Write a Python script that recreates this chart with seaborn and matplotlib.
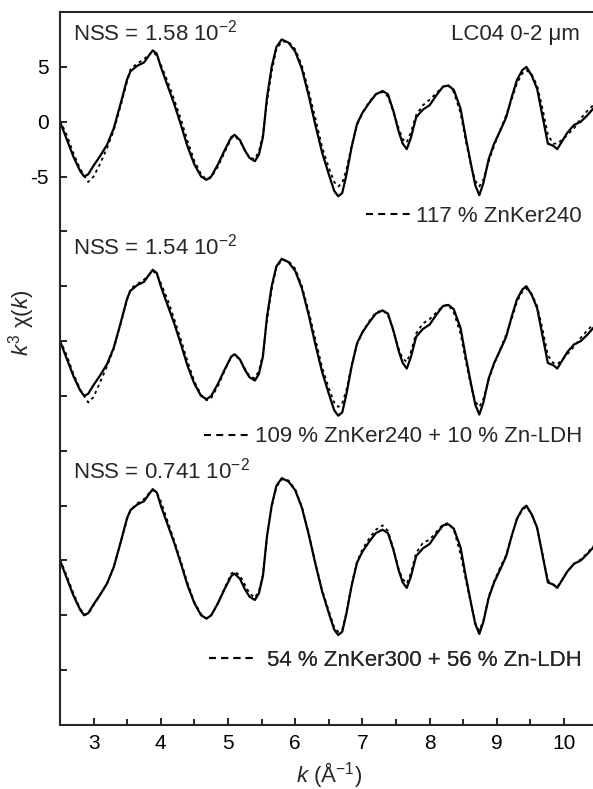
import numpy as np
import pandas as pd
import seaborn as sns
import matplotlib.pyplot as plt
from matplotlib.lines import Line2D
from matplotlib.ticker import FixedLocator, FuncFormatter, MultipleLocator

# k grid (Å^-1) and k^3 chi(k) values
k = [2.50, 2.60, 2.70, 2.80, 2.86, 2.92, 3.00, 3.10, 3.20, 3.30,
     3.40, 3.50, 3.55, 3.65, 3.75, 3.82, 3.88, 3.94, 4.00, 4.10,
     4.20, 4.30, 4.40, 4.50, 4.60, 4.68, 4.75, 4.85, 4.95, 5.05,
     5.10, 5.18, 5.25, 5.32, 5.40, 5.46, 5.52, 5.58, 5.65, 5.72,
     5.80, 5.90, 6.00, 6.10, 6.20, 6.30, 6.40, 6.50, 6.58, 6.64,
     6.70, 6.76, 6.84, 6.92, 7.00, 7.10, 7.20, 7.30, 7.38, 7.46,
     7.54, 7.60, 7.66, 7.72, 7.80, 7.90, 8.00, 8.10, 8.20, 8.28,
     8.36, 8.46, 8.54, 8.62, 8.68, 8.74, 8.80, 8.88, 8.96, 9.06,
     9.14, 9.22, 9.30, 9.38, 9.44, 9.52, 9.60, 9.68, 9.76, 9.84,
     9.90, 9.96, 10.05, 10.15, 10.25, 10.35, 10.45]

exp_chi = [0.0, -1.6, -3.2, -4.5, -5.0, -4.8, -4.0, -3.1, -2.1, -0.6,
           1.6, 3.9, 4.6, 5.1, 5.4, 6.0, 6.5, 6.2, 5.0, 3.3,
           1.6, -0.3, -2.3, -3.9, -5.0, -5.3, -5.0, -3.9, -2.6, -1.4,
           -1.2, -1.7, -2.6, -3.3, -3.6, -3.0, -1.4, 2.2, 5.0, 6.8,
           7.5, 7.2, 6.4, 4.8, 2.4, -0.3, -2.8, -4.8, -6.3, -6.8,
           -6.5, -4.9, -2.3, -0.2, 0.8, 1.7, 2.5, 2.8, 2.5, 1.0,
           -0.9, -2.0, -2.5, -1.5, 0.4, 1.1, 1.5, 2.4, 3.2, 3.3,
           2.9, 1.2, -1.5, -4.0, -5.8, -6.7, -5.6, -3.4, -2.0, -0.7,
           0.4, 2.2, 3.8, 4.7, 5.0, 4.2, 3.0, 0.5, -2.0, -2.2,
           -2.5, -1.9, -1.0, -0.3, 0.0, 0.6, 1.3]

fit_ker240 = [0.1, -1.2, -2.9, -4.3, -4.9, -5.5, -5.0, -3.8, -2.4, -0.8,
              1.4, 3.7, 4.8, 5.3, 5.7, 6.1, 6.4, 6.0, 5.2, 3.7,
              2.0, 0.2, -1.8, -3.6, -4.8, -5.3, -5.1, -4.1, -2.8, -1.5,
              -1.3, -1.8, -2.6, -3.3, -3.4, -2.7, -1.2, 1.8, 4.6, 6.6,
              7.3, 7.3, 6.6, 5.1, 2.8, 0.3, -2.3, -4.2, -5.5, -5.9,
              -5.6, -4.4, -2.2, -0.3, 0.8, 1.8, 2.5, 2.7, 2.3, 0.9,
              -0.6, -1.6, -1.9, -1.0, 0.6, 1.5, 2.0, 2.6, 3.2, 3.3,
              2.7, 0.8, -1.8, -4.1, -5.4, -5.9, -5.3, -3.6, -2.2, -0.6,
              0.6, 2.0, 3.5, 4.4, 4.7, 4.3, 3.3, 1.2, -1.2, -2.0,
              -2.0, -1.7, -1.2, -0.6, 0.3, 1.0, 1.6]

fit_ker240_ldh = [0.1, -1.3, -3.0, -4.4, -5.0, -5.6, -5.1, -3.7, -2.3, -0.7,
                  1.5, 3.8, 4.8, 5.2, 5.6, 6.0, 6.4, 6.1, 5.3, 3.8,
                  2.0, 0.1, -1.9, -3.7, -4.9, -5.4, -5.2, -4.1, -2.7, -1.4,
                  -1.2, -1.7, -2.5, -3.2, -3.4, -2.7, -1.2, 1.9, 4.7, 6.7,
                  7.4, 7.3, 6.6, 5.0, 2.7, 0.2, -2.4, -4.3, -5.6, -6.0,
                  -5.7, -4.5, -2.2, -0.3, 0.8, 1.8, 2.6, 2.8, 2.4, 0.9,
                  -0.7, -1.6, -1.9, -1.0, 0.7, 1.6, 2.0, 2.6, 3.2, 3.3,
                  2.6, 0.7, -1.9, -4.2, -5.5, -6.0, -5.3, -3.5, -2.1, -0.6,
                  0.6, 2.0, 3.6, 4.5, 4.8, 4.3, 3.2, 1.1, -1.3, -2.0,
                  -2.1, -1.8, -1.2, -0.5, 0.3, 1.0, 1.6]

fit_ker300_ldh = [0.1, -1.4, -3.0, -4.4, -4.9, -4.9, -4.1, -3.1, -2.1, -0.6,
                  1.6, 3.8, 4.6, 5.2, 5.6, 6.1, 6.4, 6.2, 5.4, 3.6,
                  1.8, -0.1, -2.1, -3.8, -4.9, -5.3, -5.0, -3.9, -2.5, -1.2,
                  -1.0, -1.4, -2.2, -3.0, -3.4, -2.8, -1.3, 2.1, 4.9, 6.7,
                  7.4, 7.3, 6.5, 4.9, 2.5, -0.2, -2.7, -4.6, -6.1, -6.5,
                  -6.3, -4.8, -2.2, -0.1, 1.0, 2.0, 2.8, 3.2, 2.7, 1.1,
                  -0.8, -1.7, -2.1, -1.2, 0.7, 1.6, 1.9, 2.6, 3.3, 3.4,
                  2.8, 0.6, -1.8, -4.1, -5.7, -6.4, -5.5, -3.3, -1.9, -0.5,
                  0.5, 2.2, 3.8, 4.6, 4.9, 4.2, 2.9, 0.6, -1.8, -2.2,
                  -2.4, -1.9, -1.0, -0.3, 0.1, 0.7, 1.4]

nss_labels = ["NSS = 1.58 10$^{-2}$", "NSS = 1.54 10$^{-2}$", "NSS = 0.741 10$^{-2}$"]
fit_labels = ["117 % ZnKer240", "109 % ZnKer240 + 10 % Zn-LDH", "54 % ZnKer300 + 56 % Zn-LDH"]
sample_label = "LC04 0-2 μm"
fits = [fit_ker240, fit_ker240_ldh, fit_ker300_ldh]
offsets = [0, -20, -40]

sns.set_style("ticks")
plt.rcParams["font.family"] = ["Liberation Sans", "DejaVu Sans"]
plt.rcParams["mathtext.fontset"] = "custom"
plt.rcParams["mathtext.rm"] = "Liberation Sans"
plt.rcParams["mathtext.it"] = "Liberation Sans:italic"
plt.rcParams["axes.unicode_minus"] = False
plt.rcParams["lines.scale_dashes"] = False

W, H = 593, 789
fig = plt.figure(figsize=(W / 100, H / 100), dpi=100)
ax = fig.add_axes([60 / W, 64 / H, 537.6 / W, 713 / H])

for fit, off in zip(fits, offsets):
    panel = pd.DataFrame({
        "k": k,
        "exp": np.array(exp_chi) + off,
        "fit": np.array(fit) + off,
    })
    sns.lineplot(data=panel, x="k", y="exp", color="black", lw=1.6,
                 estimator=None, sort=False, ax=ax)
    sns.lineplot(data=panel, x="k", y="fit", color="black", lw=1.3,
                 linestyle=(0, (2.2, 2.6)), estimator=None, sort=False, ax=ax)

ax.set_xlim(2.5, 10.5)
ax.set_ylim(-55, 10)
ax.xaxis.set_major_locator(MultipleLocator(1))
ax.xaxis.set_minor_locator(MultipleLocator(0.5))
ax.yaxis.set_major_locator(FixedLocator(np.arange(-50, 6, 5)))
ax.yaxis.set_major_formatter(FuncFormatter(lambda v, p: f"{v:g}" if -5 <= v <= 5 else ""))
ax.tick_params(which="both", direction="in", width=1.2, colors="black", labelsize=15)
ax.tick_params(axis="x", which="major", length=5, pad=6.5)
ax.tick_params(axis="x", which="minor", length=4)
ax.tick_params(axis="y", length=5, pad=8)
for side in ["left", "bottom", "top"]:
    ax.spines[side].set_linewidth(1.5)
ax.spines["right"].set_visible(False)

ax.set_xlabel("$k$ (Å$^{-1}$)", fontsize=16)
ax.xaxis.set_label_coords(0.5, -0.049)
ax.set_ylabel("$k^3$ χ($k$)", fontsize=16)
ax.yaxis.set_label_coords(-0.043, 0.564)

# panel annotations
nss_y = [40, 255, 478]
for lab, y in zip(nss_labels, nss_y):
    fig.text(73 / W, 1 - y / H, lab, fontsize=16, ha="left", va="baseline")
fig.text(580 / W, 1 - 40 / H, sample_label, fontsize=16, ha="right", va="baseline")

# legend handle: three long dashes, like the reference key
handle = Line2D([], [], color="black", lw=1.5, linestyle=(0, (5, 3.8)))
leg_y = [216, 437, 660]
leg_pad = [0.2, 0.24, 0.55]
for lab, y, pad in zip(fit_labels, leg_y, leg_pad):
    leg = ax.legend(handles=[handle], labels=[lab], loc="center right",
                    bbox_to_anchor=(582 / W, 1 - y / H), bbox_transform=fig.transFigure,
                    frameon=False, fontsize=16, handlelength=2.05, handletextpad=pad,
                    borderpad=0, borderaxespad=0)
    ax.add_artist(leg)

fig.savefig("out.png", dpi=100)
